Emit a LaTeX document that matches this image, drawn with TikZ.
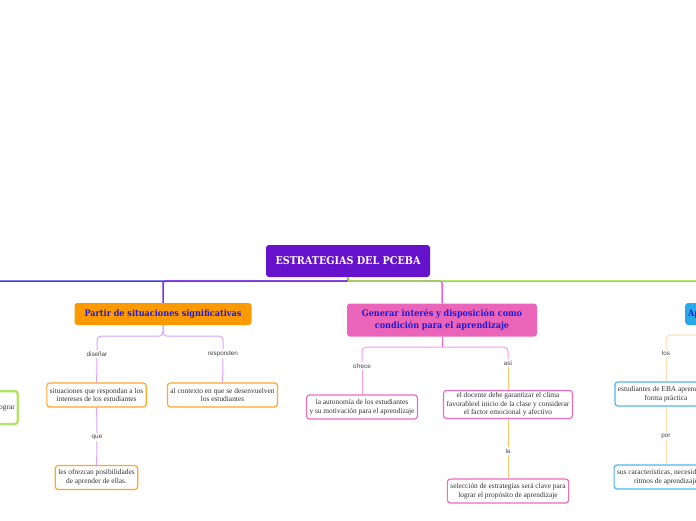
\documentclass[tikz,border=0pt]{standalone}
\usepackage{fontspec}
\setmainfont{Liberation Serif}
\newfontfamily\lblfont{Liberation Sans}
\newfontfamily\brfont{DejaVu Serif Condensed}

\definecolor{rootpurple}{HTML}{6611CC}
\definecolor{orangefill}{HTML}{FF9900}
\definecolor{pinkfill}{HTML}{EA64B9}
\definecolor{bluefill}{HTML}{29A8EA}
\definecolor{branchblue}{HTML}{1C1CD8}
\definecolor{orangeborder}{HTML}{FFA62B}
\definecolor{pinkborder}{HTML}{EC6CC0}
\definecolor{blueborder}{HTML}{4DB6EC}
\definecolor{greenborder}{HTML}{B5E36A}
\definecolor{lilac}{HTML}{D9A3FF}
\definecolor{linepink}{HTML}{F25ED5}
\definecolor{pinksub}{HTML}{FF99E6}
\definecolor{peach}{HTML}{FFC766}
\definecolor{lightpeach}{HTML}{FFDDAA}
\definecolor{lineblue}{HTML}{3B3BE0}
\definecolor{linepurple}{HTML}{8A2BE2}
\definecolor{linegreen}{HTML}{88E02A}
\definecolor{textgray}{HTML}{333333}
\definecolor{lblgray}{HTML}{444444}

\begin{document}
\begin{tikzpicture}[
    x=1pt, y=-1pt,
    every node/.style={rounded corners=3pt, align=center},
    rootbox/.style={fill=rootpurple, text=white, font=\brfont\bfseries\fontsize{10.7}{12}\selectfont, minimum width=164pt, minimum height=32pt},
    mainbox/.style={text=branchblue, font=\brfont\bfseries\fontsize{9}{12.5}\selectfont, inner sep=3pt},
    subbox/.style={draw, line width=1.2pt, fill=white, text=textgray, font=\fontsize{7.4}{8.7}\selectfont, inner xsep=3pt, inner ysep=2pt, minimum height=24pt},
    lbl/.style={fill=white, text=lblgray, font=\lblfont\fontsize{6.3}{7}\selectfont, inner sep=1.5pt, rounded corners=0pt},
    mainline/.style={line width=1.5pt, rounded corners=2pt},
    subline/.style={line width=1pt, rounded corners=4pt}
]
\useasboundingbox (0,0) rectangle (696,520);
\clip (0,0) rectangle (696,520);

\node (root) [rootbox] at (348,261) {ESTRATEGIAS DEL PCEBA};
\node (sig)  [mainbox, fill=orangefill, minimum width=177pt, minimum height=22pt] at (163,314) {Partir de situaciones significativas};
\node (gen)  [mainbox, fill=pinkfill, minimum width=190pt, minimum height=33pt] at (442,320) {Generar interés y disposición como\\condición para el aprendizaje};
\node (apr)  [mainbox, fill=bluefill, minimum height=22pt, anchor=west] at (685,314) {Aprendizaje práctico};

\node (lograr) [subbox, draw=greenborder, line width=2.5pt, minimum height=33pt, anchor=east] at (19,407.5) {para lograr};

\node (sit) [subbox, draw=orangeborder] at (96.5,395)   {situaciones que respondan a los\\intereses de los estudiantes};
\node (ctx) [subbox, draw=orangeborder] at (222.5,395)  {al contexto en que se desenvuelven\\los estudiantes};
\node (ofr) [subbox, draw=orangeborder] at (96.5,477.5) {les ofrezcan posibilidades\\de aprender de ellas.};
\node (aut) [subbox, draw=pinkborder] at (362,407)   {la autonomía de los estudiantes\\y su motivación para el aprendizaje};
\node (doc) [subbox, draw=pinkborder] at (508,404.5) {el docente debe garantizar el clima\\favorableel inicio de la clase y considerar\\el factor emocional y afectivo};
\node (sel) [subbox, draw=pinkborder] at (508,491)   {selección de estrategias será clave para\\lograr el propósito de aprendizaje};
\node (est) [subbox, draw=blueborder] at (666,394) {estudiantes de EBA aprenden de\\forma práctica};
\node (car) [subbox, draw=blueborder] at (666,477) {sus características, necesidades y\\ritmos de aprendizaje};

\node (dis)    [lbl] at (97,354)  {diseñar};
\node (res)    [lbl] at (223,354) {responden};
\node (que)    [lbl] at (97,437)  {que};
\node (ofrece) [lbl] at (362,366) {ofrece};
\node (asi)    [lbl] at (508,363) {así};
\node (la)     [lbl] at (508,451) {la};
\node (los)    [lbl] at (666,353) {los};
\node (por)    [lbl] at (666,436) {por};

\coordinate (farleft)  at (-100,281);
\coordinate (farright) at (800,281);

% Edges
\draw[mainline, draw=lineblue]   (root.south) -- ++(0,4) -- (farleft);
\draw[mainline, draw=linepurple] (root.south) -- ++(0,4) -| (sig.north);
\draw[mainline, draw=linepink]   (root.south) -- ++(0,4) -| (gen.north);
\draw[mainline, draw=linegreen]  (root.south) -- ++(0,4) -- (farright);

\draw[subline, draw=lilac] (sig.south) -- ++(0,11) -| (dis.north);
\draw[subline, draw=lilac] (sig.south) -- ++(0,11) -| (res.north);
\draw[subline, draw=lilac] (dis) -- (sit);
\draw[subline, draw=lilac] (res) -- (ctx);
\draw[subline, draw=lilac] (sit) -- (que);
\draw[subline, draw=lilac] (que) -- (ofr);

\draw[subline, draw=linepink] (gen.south) -- ++(0,10.5);
\draw[subline, draw=pinksub] (gen.south) ++(0,10.5) -| (ofrece.north);
\draw[subline, draw=pinksub] (gen.south) ++(0,10.5) -| (asi.north);
\draw[subline, draw=pinksub] (ofrece) -- (aut);
\draw[subline, draw=peach] (asi) -- (doc);
\draw[subline, draw=peach] (doc) -- (la);
\draw[subline, draw=peach] (la) -- (sel);

\draw[subline, draw=lightpeach] (apr.south) -- ++(0,10) -| (los.north);
\draw[subline, draw=lightpeach] (los) -- (est);
\draw[subline, draw=lightpeach] (est) -- (por);
\draw[subline, draw=lightpeach] (por) -- (car);

\end{tikzpicture}
\end{document}
